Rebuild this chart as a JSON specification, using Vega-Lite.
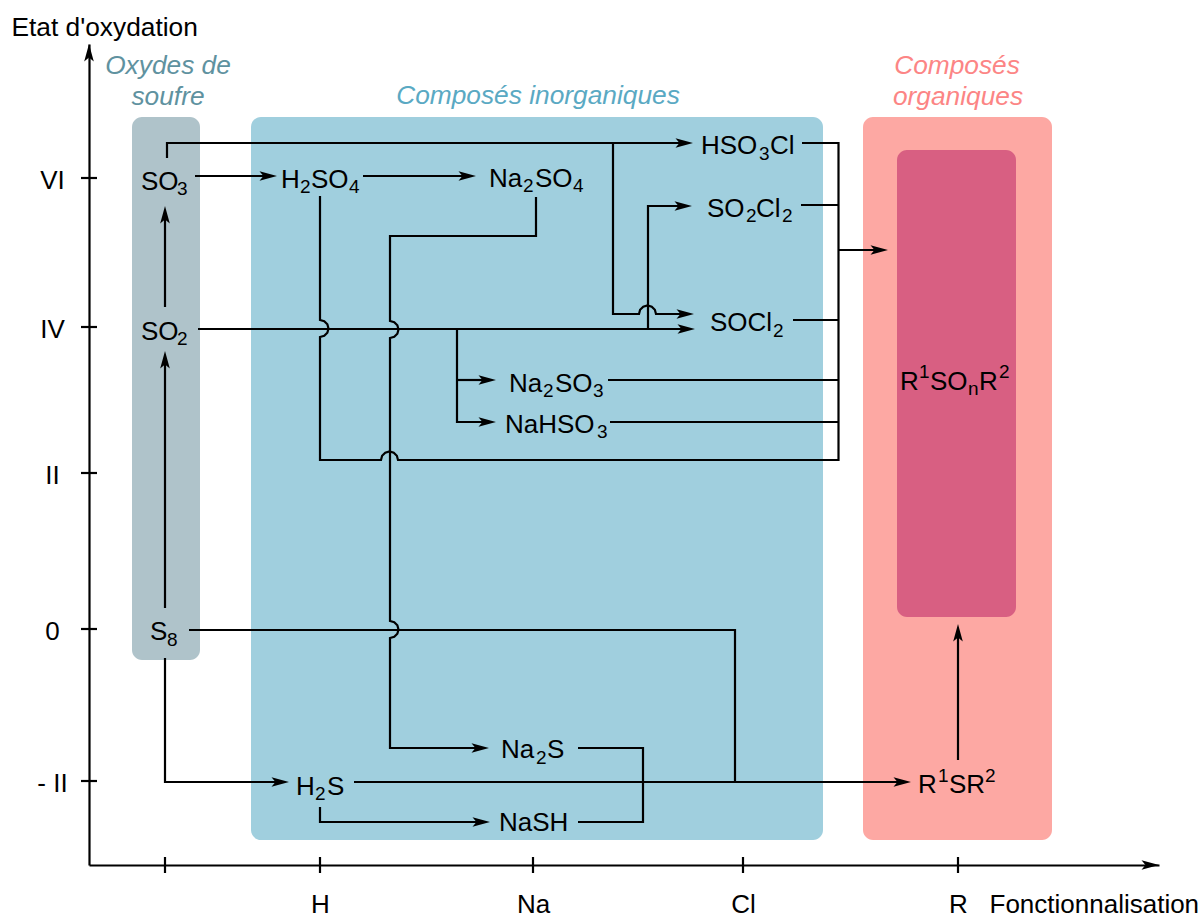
{
"$schema":"https://vega.github.io/schema/vega-lite/v6.json",
"width":1070,"height":821,
"autosize":{"type":"none"},
"padding":{"left":89,"right":44,"top":44,"bottom":50},
"background":"white",
"config":{"font":"Liberation Sans","view":{"stroke":null}},
"datasets":{
"zones":[
{"role":"oxydes","x":132,"x2":200,"y":117,"y2":660},
{"role":"inorganiques","x":251,"x2":823,"y":117,"y2":840},
{"role":"organiques","x":863,"x2":1052,"y":117,"y2":840},
{"role":"sulfoxydes","x":897,"x2":1016,"y":150,"y2":617}
],
"headers":[
{"role":"titre oxydes","text":"Oxydes de","x":168,"y":74},
{"role":"titre oxydes","text":"soufre","x":168,"y":105},
{"role":"titre inorganiques","text":"Composés inorganiques","x":538,"y":104},
{"role":"titre organiques","text":"Composés","x":957,"y":74},
{"role":"titre organiques","text":"organiques","x":958,"y":105}
],
"links":[
{"path":"a","seq":1,"x":167,"y":158},{"path":"a","seq":2,"x":167,"y":143},{"path":"a","seq":3,"x":685,"y":143},
{"path":"b","seq":1,"x":613,"y":143},{"path":"b","seq":2,"x":613,"y":314},{"path":"b","seq":3,"x":639,"y":314},{"path":"b","seq":4,"x":640.1,"y":309.75},{"path":"b","seq":5,"x":643.25,"y":306.64},{"path":"b","seq":6,"x":647.5,"y":305.5},{"path":"b","seq":7,"x":651.75,"y":306.64},{"path":"b","seq":8,"x":654.86,"y":309.75},{"path":"b","seq":9,"x":656,"y":314},{"path":"b","seq":10,"x":685,"y":314},
{"path":"c","seq":1,"x":198,"y":329},{"path":"c","seq":2,"x":686,"y":329},
{"path":"d","seq":1,"x":648,"y":329},{"path":"d","seq":2,"x":648,"y":206},{"path":"d","seq":3,"x":684,"y":206},
{"path":"e","seq":1,"x":457,"y":329},{"path":"e","seq":2,"x":457,"y":422},{"path":"e","seq":3,"x":488,"y":422},
{"path":"e2","seq":1,"x":457,"y":380},{"path":"e2","seq":2,"x":488,"y":380},
{"path":"f1","seq":1,"x":608,"y":380},{"path":"f1","seq":2,"x":838.5,"y":380},
{"path":"f2","seq":1,"x":610,"y":422},{"path":"f2","seq":2,"x":838.5,"y":422},
{"path":"f3","seq":1,"x":802,"y":143},{"path":"f3","seq":2,"x":838.5,"y":143},{"path":"f3","seq":3,"x":838.5,"y":460},{"path":"f3","seq":4,"x":398,"y":460},{"path":"f3","seq":5,"x":396.86,"y":455.75},{"path":"f3","seq":6,"x":393.75,"y":452.64},{"path":"f3","seq":7,"x":389.5,"y":451.5},{"path":"f3","seq":8,"x":385.25,"y":452.64},{"path":"f3","seq":9,"x":382.1,"y":455.75},{"path":"f3","seq":10,"x":381,"y":460},{"path":"f3","seq":11,"x":320,"y":460},{"path":"f3","seq":12,"x":320,"y":337},{"path":"f3","seq":13,"x":324.25,"y":335.86},{"path":"f3","seq":14,"x":327.36,"y":332.75},{"path":"f3","seq":15,"x":328.5,"y":328.5},{"path":"f3","seq":16,"x":327.36,"y":324.25},{"path":"f3","seq":17,"x":324.25,"y":321.14},{"path":"f3","seq":18,"x":320,"y":320},{"path":"f3","seq":19,"x":320,"y":196},
{"path":"f4","seq":1,"x":801,"y":205},{"path":"f4","seq":2,"x":838.5,"y":205},
{"path":"f5","seq":1,"x":793,"y":320},{"path":"f5","seq":2,"x":838.5,"y":320},
{"path":"g","seq":1,"x":838.5,"y":250},{"path":"g","seq":2,"x":880,"y":250},
{"path":"h","seq":1,"x":536,"y":197},{"path":"h","seq":2,"x":536,"y":236},{"path":"h","seq":3,"x":390,"y":236},{"path":"h","seq":4,"x":390,"y":321},{"path":"h","seq":5,"x":394.25,"y":322.14},{"path":"h","seq":6,"x":397.36,"y":325.25},{"path":"h","seq":7,"x":398.5,"y":329.5},{"path":"h","seq":8,"x":397.36,"y":333.75},{"path":"h","seq":9,"x":394.25,"y":336.86},{"path":"h","seq":10,"x":390,"y":338},{"path":"h","seq":11,"x":390,"y":621},{"path":"h","seq":12,"x":394.25,"y":622.14},{"path":"h","seq":13,"x":397.36,"y":625.25},{"path":"h","seq":14,"x":398.5,"y":629.5},{"path":"h","seq":15,"x":397.36,"y":633.75},{"path":"h","seq":16,"x":394.25,"y":636.86},{"path":"h","seq":17,"x":390,"y":638},{"path":"h","seq":18,"x":390,"y":748},{"path":"h","seq":19,"x":481,"y":748},
{"path":"i","seq":1,"x":189,"y":630},{"path":"i","seq":2,"x":735,"y":630},{"path":"i","seq":3,"x":735,"y":782},
{"path":"j","seq":1,"x":165,"y":658},{"path":"j","seq":2,"x":165,"y":782},{"path":"j","seq":3,"x":281,"y":782},
{"path":"k","seq":1,"x":354,"y":782},{"path":"k","seq":2,"x":903,"y":782},
{"path":"l","seq":1,"x":320,"y":807},{"path":"l","seq":2,"x":320,"y":822},{"path":"l","seq":3,"x":482,"y":822},
{"path":"m","seq":1,"x":578,"y":748},{"path":"m","seq":2,"x":643,"y":748},{"path":"m","seq":3,"x":643,"y":822},{"path":"m","seq":4,"x":578,"y":822},
{"path":"n","seq":1,"x":165,"y":608},{"path":"n","seq":2,"x":165,"y":360},
{"path":"n2","seq":1,"x":165,"y":307},{"path":"n2","seq":2,"x":165,"y":214},
{"path":"o","seq":1,"x":958,"y":760},{"path":"o","seq":2,"x":958,"y":632},
{"path":"p","seq":1,"x":195,"y":176},{"path":"p","seq":2,"x":268,"y":176},
{"path":"q","seq":1,"x":363,"y":176},{"path":"q","seq":2,"x":468,"y":176}
],
"arrows":[
{"dir":"right","x":693,"y":143},{"dir":"right","x":694,"y":314},{"dir":"right","x":695,"y":329},{"dir":"right","x":692,"y":206},
{"dir":"right","x":496,"y":422},{"dir":"right","x":496,"y":380},{"dir":"right","x":888,"y":250},{"dir":"right","x":489,"y":748},
{"dir":"right","x":289,"y":782},{"dir":"right","x":911,"y":782},{"dir":"right","x":490,"y":822},{"dir":"right","x":277,"y":176},
{"dir":"right","x":476,"y":176},{"dir":"right","x":1159,"y":865},
{"dir":"up","x":165,"y":351},{"dir":"up","x":165,"y":206},{"dir":"up","x":958,"y":624},{"dir":"up","x":89,"y":44}
],
"ticks":[
{"dir":"x","x":165,"y":865},{"dir":"x","x":320,"y":865},{"dir":"x","x":533,"y":865},{"dir":"x","x":743,"y":865},{"dir":"x","x":958,"y":865},
{"dir":"y","x":89,"y":178},{"dir":"y","x":89,"y":327},{"dir":"y","x":89,"y":473},{"dir":"y","x":89,"y":629},{"dir":"y","x":89,"y":781}
],
"chem":[
{"part":"base","text":"SO","x":141,"y":190},{"part":"small","text":"3","x":177,"y":195},
{"part":"base","text":"SO","x":141,"y":340},{"part":"small","text":"2","x":177,"y":345},
{"part":"base","text":"S","x":150,"y":640},{"part":"small","text":"8","x":167,"y":646},
{"part":"base","text":"H","x":281,"y":188},{"part":"small","text":"2","x":300,"y":193},{"part":"base","text":"SO","x":311,"y":188},{"part":"small","text":"4","x":349,"y":193},
{"part":"base","text":"Na","x":489,"y":187},{"part":"small","text":"2","x":523,"y":192},{"part":"base","text":"SO","x":535,"y":187},{"part":"small","text":"4","x":573,"y":192},
{"part":"base","text":"HSO","x":701,"y":154},{"part":"small","text":"3","x":759,"y":160},{"part":"base","text":"Cl","x":770,"y":154},
{"part":"base","text":"SO","x":707,"y":217},{"part":"small","text":"2","x":746,"y":222},{"part":"base","text":"Cl","x":756,"y":217},{"part":"small","text":"2","x":782,"y":222},
{"part":"base","text":"SOCl","x":710,"y":331},{"part":"small","text":"2","x":773,"y":337},
{"part":"base","text":"Na","x":509,"y":392},{"part":"small","text":"2","x":543,"y":397},{"part":"base","text":"SO","x":555,"y":392},{"part":"small","text":"3","x":593,"y":397},
{"part":"base","text":"NaHSO","x":505,"y":433},{"part":"small","text":"3","x":597,"y":438},
{"part":"base","text":"Na","x":501,"y":758},{"part":"small","text":"2","x":536,"y":764},{"part":"base","text":"S","x":547,"y":758},
{"part":"base","text":"NaSH","x":499,"y":831},
{"part":"base","text":"H","x":296,"y":795},{"part":"small","text":"2","x":315,"y":800},{"part":"base","text":"S","x":327,"y":795},
{"part":"base","text":"R","x":918,"y":793},{"part":"small","text":"1","x":938,"y":782},{"part":"base","text":"SR","x":949,"y":793},{"part":"small","text":"2","x":985,"y":782},
{"part":"base","text":"R","x":900,"y":390},{"part":"small","text":"1","x":919,"y":378},{"part":"base","text":"SO","x":930,"y":390},{"part":"small","text":"n","x":968,"y":395},{"part":"base","text":"R","x":979,"y":390},{"part":"small","text":"2","x":999,"y":378}
]
},
"encoding":{
"x":{"field":"x","type":"quantitative","scale":{"domain":[89,1159],"nice":false,"zero":false},
 "axis":{"values":[165,320,533,743,958],"labelExpr":"datum.value==320?'H':datum.value==533?'Na':datum.value==743?'Cl':datum.value==958?'R':''","grid":false,"ticks":false,"tickSize":0,"domainColor":"black","domainWidth":2.2,"labelColor":"black","labelFontSize":26,"labelPadding":47,"labelBaseline":"alphabetic","labelOverlap":false,"labelFlush":false,"labelBound":false,
 "title":"Fonctionnalisation","titleFontSize":26,"titleFontWeight":"normal","titleColor":"black","titleAlign":"left","titleBaseline":"alphabetic","titleX":900,"titleY":47}},
"y":{"field":"y","type":"quantitative","scale":{"domain":[44,865],"reverse":true,"nice":false,"zero":false},
 "axis":{"values":[178,327,473,629,781],"labelExpr":"datum.value==178?'VI':datum.value==327?'IV':datum.value==473?'II':datum.value==629?'0':'- II'","grid":false,"ticks":false,"tickSize":0,"domainColor":"black","domainWidth":2.2,"labelColor":"black","labelFontSize":26,"labelPadding":37,"labelAlign":"center","labelBaseline":"alphabetic","labelOffset":10,"labelOverlap":false,"labelFlush":false,"labelBound":false,
 "title":"Etat d'oxydation","titleFontSize":26.3,"titleFontWeight":"normal","titleColor":"black","titleAngle":0,"titleAlign":"left","titleBaseline":"alphabetic","titleX":-78,"titleY":-9}}
},
"layer":[
{"data":{"name":"zones"},"mark":{"type":"rect","cornerRadius":10},
 "encoding":{"x2":{"field":"x2"},"y2":{"field":"y2"},
 "color":{"field":"role","type":"nominal","legend":null,"scale":{"domain":["oxydes","inorganiques","organiques","sulfoxydes","titre oxydes","titre inorganiques","titre organiques"],"range":["#afc3ca","#a0cfde","#fda8a3","#d85f82","#5f92a0","#5aa9c3","#fc8585"]}}}},
{"data":{"name":"headers"},"mark":{"type":"text","fontStyle":"italic","fontSize":26.3,"align":"center","baseline":"alphabetic"},
 "encoding":{"text":{"field":"text"},
 "color":{"field":"role","type":"nominal","legend":null,"scale":{"domain":["oxydes","inorganiques","organiques","sulfoxydes","titre oxydes","titre inorganiques","titre organiques"],"range":["#afc3ca","#a0cfde","#fda8a3","#d85f82","#5f92a0","#5aa9c3","#fc8585"]}}}},
{"data":{"name":"links"},"mark":{"type":"line","color":"black","strokeWidth":2.2,"strokeJoin":"miter"},
 "encoding":{"detail":{"field":"path"},"order":{"field":"seq","type":"quantitative"}}},
{"data":{"name":"arrows"},"transform":[{"filter":"datum.dir=='right'"}],"mark":{"type":"point","shape":"M0,0L-2,-0.55L-1.55,0L-2,0.55Z","size":306,"filled":true,"color":"black","opacity":1,"strokeWidth":0}},
{"data":{"name":"arrows"},"transform":[{"filter":"datum.dir=='up'"}],"mark":{"type":"point","shape":"M0,0L-0.55,2L0,1.55L0.55,2Z","size":306,"filled":true,"color":"black","opacity":1,"strokeWidth":0}},
{"data":{"name":"ticks"},"transform":[{"filter":"datum.dir=='x'"}],"mark":{"type":"tick","orient":"vertical","size":16,"thickness":2.2,"color":"black","opacity":1}},
{"data":{"name":"ticks"},"transform":[{"filter":"datum.dir=='y'"}],"mark":{"type":"tick","orient":"horizontal","size":16,"thickness":2.2,"color":"black","opacity":1}},
{"data":{"name":"chem"},"transform":[{"filter":"datum.part=='base'"}],"mark":{"type":"text","fontSize":26,"align":"left","baseline":"alphabetic","color":"black"},"encoding":{"text":{"field":"text"}}},
{"data":{"name":"chem"},"transform":[{"filter":"datum.part=='small'"}],"mark":{"type":"text","fontSize":19,"align":"left","baseline":"alphabetic","color":"black"},"encoding":{"text":{"field":"text"}}}
]
}
